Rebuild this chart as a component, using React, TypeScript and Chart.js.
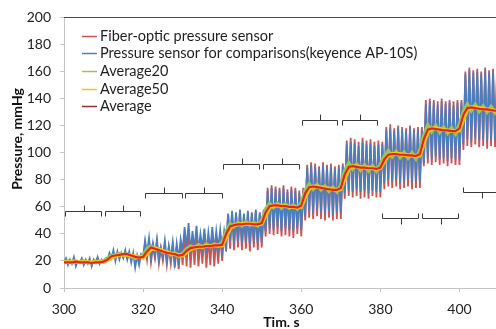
import React, { useEffect, useRef } from "react";
import { Chart, registerables } from "chart.js";

Chart.register(...registerables);

// ---------- axes ----------
const X_MIN = 300;
const X_MAX = 410;
const Y_MIN = 0;
const Y_MAX = 200;
const X_TICKS = [300, 320, 340, 360, 380, 400];
const Y_TICKS = [0, 20, 40, 60, 80, 100, 120, 140, 160, 180, 200];
const X_TITLE = "Tim. s";
const Y_TITLE = "Pressure, mmHg";

// ---------- series (raw signals sampled every 0.5 s from 300 s) ----------
const RAW_START = 300;
const RAW_STEP = 0.5;

const fiberOptic = [
  // 300-310
  19, 20, 18, 20, 19, 21, 18, 19, 19, 20, 18, 20, 19, 20, 18, 20, 19, 21, 18, 20,
  // 310-320
  19, 21, 22, 24, 23, 25, 22, 25, 23, 25, 23, 25, 22, 25, 22, 24, 20, 23, 21, 24,
  // 320-330
  22, 33, 21, 35, 19, 31, 22, 34, 18, 29, 20, 32, 17, 30, 18, 31, 15, 30, 14, 33,
  // 330-340
  17, 40, 16, 42, 15, 38, 17, 41, 16, 36, 18, 40, 15, 37, 17, 41, 16, 38, 18, 39,
  // 340-350
  20, 40, 27, 54, 29, 56, 28, 55, 30, 57, 28, 54, 29, 56, 27, 55, 30, 57, 28, 55,
  // 350-360
  30, 57, 38, 74, 40, 76, 39, 75, 40, 74, 38, 76, 39, 73, 38, 75, 37, 74, 40, 72,
  // 360-370
  38, 74, 50, 91, 52, 93, 51, 92, 53, 90, 51, 93, 50, 91, 52, 92, 50, 90, 51, 91,
  // 370-380
  51, 92, 66, 109, 68, 111, 67, 110, 68, 108, 66, 111, 67, 109, 66, 110, 68, 108, 67, 109,
  // 380-390
  67, 108, 73, 119, 75, 121, 74, 118, 75, 120, 73, 119, 74, 118, 75, 120, 73, 118, 74, 119,
  // 390-400
  74, 119, 90, 139, 92, 140, 91, 139, 93, 138, 91, 140, 92, 138, 90, 139, 92, 138, 91, 139,
  // 400-410
  91, 139, 102, 160, 105, 163, 104, 161, 106, 162, 104, 160, 105, 163, 103, 161, 105, 162, 104, 160, 105,
];

const keyence = [
  // 300-310
  19, 22, 17, 21, 18, 23, 16, 20, 19, 22, 17, 21, 18, 22, 16, 21, 19, 23, 18, 21,
  // 310-320
  19, 22, 21, 26, 22, 28, 20, 27, 21, 26, 22, 28, 21, 27, 19, 26, 15, 24, 17, 25,
  // 320-330
  23, 35, 25, 37, 22, 33, 24, 36, 21, 30, 23, 35, 20, 31, 22, 34, 19, 33, 21, 36,
  // 330-340
  27, 45, 29, 48, 26, 42, 28, 46, 27, 40, 29, 44, 26, 41, 28, 45, 27, 42, 29, 43,
  // 340-350
  28, 42, 32, 55, 34, 57, 33, 56, 35, 58, 33, 55, 34, 57, 32, 56, 35, 58, 33, 56,
  // 350-360
  34, 58, 42, 72, 44, 74, 43, 73, 45, 72, 42, 74, 44, 71, 43, 73, 42, 72, 44, 70,
  // 360-370
  43, 72, 54, 89, 57, 91, 55, 90, 58, 88, 56, 91, 55, 89, 57, 90, 54, 88, 56, 89,
  // 370-380
  56, 90, 70, 106, 72, 108, 71, 107, 73, 105, 71, 108, 72, 106, 70, 107, 72, 105, 71, 106,
  // 380-390
  71, 106, 78, 117, 80, 118, 79, 116, 80, 118, 78, 117, 79, 116, 80, 118, 78, 116, 79, 117,
  // 390-400
  79, 117, 92, 136, 96, 138, 95, 137, 97, 135, 95, 138, 96, 136, 94, 137, 96, 135, 95, 137,
  // 400-410
  95, 137, 106, 158, 110, 161, 108, 159, 111, 160, 109, 158, 110, 161, 108, 159, 110, 160, 109, 158, 110,
];

// ---------- averages (sampled every 1 s from 300 s) ----------
const AVG_START = 300;
const AVG_STEP = 1;

const average20 = [
  19, 20, 18.5, 19.5, 19, 20, 18.5, 19, 19.5, 19,
  20, 22, 24, 24.5, 25.5, 24.5, 25, 23.5, 22, 23,
  24, 29, 31, 28.5, 29, 26.5, 27, 24.5, 26, 23.5,
  25.5, 29, 31, 29.5, 32, 30, 32.5, 30.5, 32.5, 31,
  34, 42, 47.5, 45.5, 48.5, 46, 49, 46.5, 48.5, 46,
  50, 58.5, 62.5, 59.5, 62.5, 59, 62, 59, 61.5, 58.5,
  63, 72.5, 77, 73, 76.5, 72.5, 75.5, 71.5, 74.5, 71,
  76.5, 87, 92.5, 88, 91.5, 87, 91, 86.5, 90.5, 86.5,
  91.5, 97.5, 101.5, 97, 101, 96.5, 100.5, 96, 100, 95.5,
  102, 113, 120.5, 115.5, 120, 115, 119, 114.5, 118.5, 114,
  121, 130.5, 136, 131, 135.5, 130.5, 134.5, 130, 134, 129.5, 133,
];

const average50 = [
  19.5, 19, 19.5, 19.5, 19, 19.5, 19, 19, 19, 19.5,
  19.5, 20.5, 22.5, 23.5, 24.5, 24.5, 24.5, 24, 23.5, 23,
  22.5, 25.5, 28.5, 29.5, 28.5, 27.5, 26.5, 25.5, 25, 24.5,
  24, 26.5, 28.5, 30, 30.5, 30.5, 31, 31, 31.5, 31.5,
  31.5, 37.5, 44, 46.5, 47, 47.5, 47.5, 47.5, 47, 47,
  47.5, 53.5, 59.5, 61, 61, 61, 60.5, 60, 60, 59.5,
  60, 67.5, 73.5, 75, 75, 74.5, 74, 73.5, 73, 72.5,
  73, 81, 88, 90, 90, 89.5, 89, 89, 88.5, 88,
  88.5, 93.5, 98, 99, 99, 99, 98.5, 98, 98, 97.5,
  98, 107, 115.5, 118, 118, 117.5, 117, 116.5, 116, 116,
  116.5, 125, 132, 133.5, 133.5, 133, 132.5, 132, 131.5, 131, 131,
];

const average = [
  19, 19, 19, 19.5, 19, 19, 19, 18.5, 19, 19,
  19.5, 21, 23.5, 24, 24.5, 25, 25, 24, 23, 22.5,
  23, 27, 30, 29, 28, 27, 26, 25.5, 25, 24,
  24.5, 27.5, 29.5, 30, 30.5, 30.5, 31, 31, 31.5, 31.5,
  32, 40, 45.5, 46.5, 47, 47, 47.5, 47.5, 47, 47,
  48, 56, 60.5, 61, 61, 60.5, 60.5, 60, 60, 59.5,
  61, 70, 74.5, 75, 74.5, 74, 73.5, 73, 72.5, 72.5,
  74, 84, 89.5, 90, 89.5, 89, 89, 88.5, 88.5, 88,
  89, 95, 98.5, 99, 99, 98.5, 98.5, 98, 98, 97.5,
  99, 110, 117, 118, 117.5, 117, 116.5, 116.5, 116, 116,
  118, 128, 133, 133.5, 133, 132.5, 132, 132, 131.5, 131, 131,
];

const seriesLabels = [
  "Fiber-optic pressure sensor",
  "Pressure sensor for comparisons(keyence AP-10S)",
  "Average20",
  "Average50",
  "Average",
];

// ---------- bracket annotations (time span, level in mmHg, side) ----------
const bracketFrom = [300.3, 310.3, 320.4, 330.6, 340.1, 350.3, 360.3, 370.4, 380.5, 390.6, 400.8];
const bracketTo = [309.3, 319.3, 329.8, 339.9, 349.3, 359.3, 369.1, 379.2, 389.4, 399.7, 410.2];
const bracketLevel = [57, 57, 70, 70, 92, 92, 124.5, 124.5, 51.5, 51.5, 71];
const bracketUp = [true, true, true, true, true, true, true, true, false, false, false];

// ---------- styles ----------
const COLORS = ["#cc5550", "#4a7ebf", "#9cc25a", "#f6c21a", "#e3261c"];
const LEGEND_COLORS = ["#cc5550", "#4a7ebf", "#9cc25a", "#f6c21a", "#9a2a3a"];
const FONT = "Lato, 'Noto Sans', sans-serif";

function toPoints(values: number[], start: number, step: number) {
  return values.map((v, i) => ({ x: start + i * step, y: v }));
}

const overlayPlugin = {
  id: "overlay",
  afterDraw(chart: any) {
    const { ctx, chartArea, scales } = chart;
    const xs = scales.x;
    const ys = scales.y;
    ctx.save();
    // top frame line
    ctx.strokeStyle = "#4a4a4a";
    ctx.lineWidth = 1;
    ctx.beginPath();
    ctx.moveTo(chartArea.left, Math.round(chartArea.top) + 0.5);
    ctx.lineTo(chartArea.right, Math.round(chartArea.top) + 0.5);
    ctx.stroke();

    // brackets
    ctx.strokeStyle = "#3a3a3a";
    ctx.lineWidth = 1;
    const hook = 5;
    const tick = 6;
    for (let i = 0; i < bracketFrom.length; i++) {
      const x0 = Math.round(xs.getPixelForValue(bracketFrom[i])) + 0.5;
      const x1 = Math.round(xs.getPixelForValue(bracketTo[i])) + 0.5;
      const xm = Math.round((x0 + x1) / 2) + 0.5;
      const y = Math.round(ys.getPixelForValue(bracketLevel[i])) + 0.5;
      const dir = bracketUp[i] ? 1 : -1;
      ctx.beginPath();
      ctx.moveTo(x0, y + dir * hook);
      ctx.lineTo(x0, y);
      ctx.lineTo(x1, y);
      ctx.lineTo(x1, y + dir * hook);
      ctx.moveTo(xm, y);
      ctx.lineTo(xm, y - dir * tick);
      ctx.stroke();
    }

    // y-axis title
    ctx.save();
    ctx.translate(17, 139);
    ctx.rotate(-Math.PI / 2);
    ctx.font = `bold 14px ${FONT}`;
    ctx.fillStyle = "#111";
    ctx.textAlign = "center";
    ctx.textBaseline = "middle";
    ctx.fillText(Y_TITLE, 0, 0);
    ctx.restore();

    // legend
    const lx = 82;
    const ly = 35.5;
    const gap = 17.7;
    ctx.font = `14.5px ${FONT}`;
    ctx.textBaseline = "middle";
    ctx.textAlign = "left";
    seriesLabels.forEach((label, i) => {
      const y = Math.round(ly + i * gap) + 0.5;
      ctx.strokeStyle = LEGEND_COLORS[i];
      ctx.lineWidth = 1.5;
      ctx.beginPath();
      ctx.moveTo(lx, y);
      ctx.lineTo(lx + 15, y);
      ctx.stroke();
      ctx.fillStyle = "#1e1e1e";
      ctx.fillText(label, lx + 18, y);
    });
    ctx.restore();
  },
};

export default function App() {
  const canvasRef = useRef<HTMLCanvasElement | null>(null);

  useEffect(() => {
    const canvas = canvasRef.current;
    if (!canvas) return;
    const chart = new Chart(canvas, {
      type: "line",
      data: {
        datasets: [
          {
            label: seriesLabels[0],
            data: toPoints(fiberOptic, RAW_START, RAW_STEP),
            borderColor: COLORS[0],
            borderWidth: 1.8,
            pointRadius: 0,
            order: 5,
          },
          {
            label: seriesLabels[1],
            data: toPoints(keyence, RAW_START, RAW_STEP),
            borderColor: COLORS[1],
            borderWidth: 1.8,
            pointRadius: 0,
            order: 4,
          },
          {
            label: seriesLabels[2],
            data: toPoints(average20, AVG_START, AVG_STEP),
            borderColor: COLORS[2],
            borderWidth: 3.5,
            pointRadius: 0,
            order: 3,
          },
          {
            label: seriesLabels[3],
            data: toPoints(average50, AVG_START, AVG_STEP),
            borderColor: COLORS[3],
            borderWidth: 4,
            pointRadius: 0,
            order: 2,
          },
          {
            label: seriesLabels[4],
            data: toPoints(average, AVG_START, AVG_STEP),
            borderColor: COLORS[4],
            borderWidth: 2.2,
            pointRadius: 0,
            order: 1,
          },
        ],
      },
      options: {
        responsive: false,
        animation: false,
        layout: { padding: { left: 0, right: 0, top: 17, bottom: 0 } },
        plugins: {
          legend: { display: false },
          tooltip: { enabled: false },
        },
        scales: {
          x: {
            type: "linear",
            min: X_MIN,
            max: X_MAX,
            afterBuildTicks: (s: any) => {
              s.ticks = X_TICKS.map((v) => ({ value: v }));
            },
            afterFit: (s: any) => {
              s.height = 41;
            },
            grid: {
              drawOnChartArea: false,
              drawTicks: true,
              tickLength: 4,
              color: "#c4c4c4",
            },
            border: { color: "#c4c4c4" },
            ticks: {
              padding: 9,
              maxRotation: 0,
              color: "#222",
              font: { family: FONT, size: 14 },
            },
            title: {
              display: true,
              text: X_TITLE,
              color: "#111",
              font: { family: FONT, size: 14, weight: "bold", lineHeight: 1 },
              padding: { top: 0, bottom: 0 },
            },
          },
          y: {
            type: "linear",
            min: Y_MIN,
            max: Y_MAX,
            afterBuildTicks: (s: any) => {
              s.ticks = Y_TICKS.map((v) => ({ value: v }));
            },
            afterFit: (s: any) => {
              s.width = 64;
            },
            grid: {
              drawOnChartArea: false,
              drawTicks: true,
              tickLength: 4,
              color: "#c4c4c4",
            },
            border: { color: "#c4c4c4" },
            ticks: {
              padding: 9,
              color: "#222",
              font: { family: FONT, size: 14 },
            },
            title: { display: false },
          },
        },
      },
      plugins: [overlayPlugin],
    });
    return () => chart.destroy();
  }, []);

  return (
    <div
      style={{
        position: "fixed",
        left: 0,
        top: 0,
        width: 496,
        height: 329,
        overflow: "hidden",
        background: "#fff",
      }}
    >
      <canvas ref={canvasRef} width={499} height={329} style={{ display: "block" }} />
    </div>
  );
}
